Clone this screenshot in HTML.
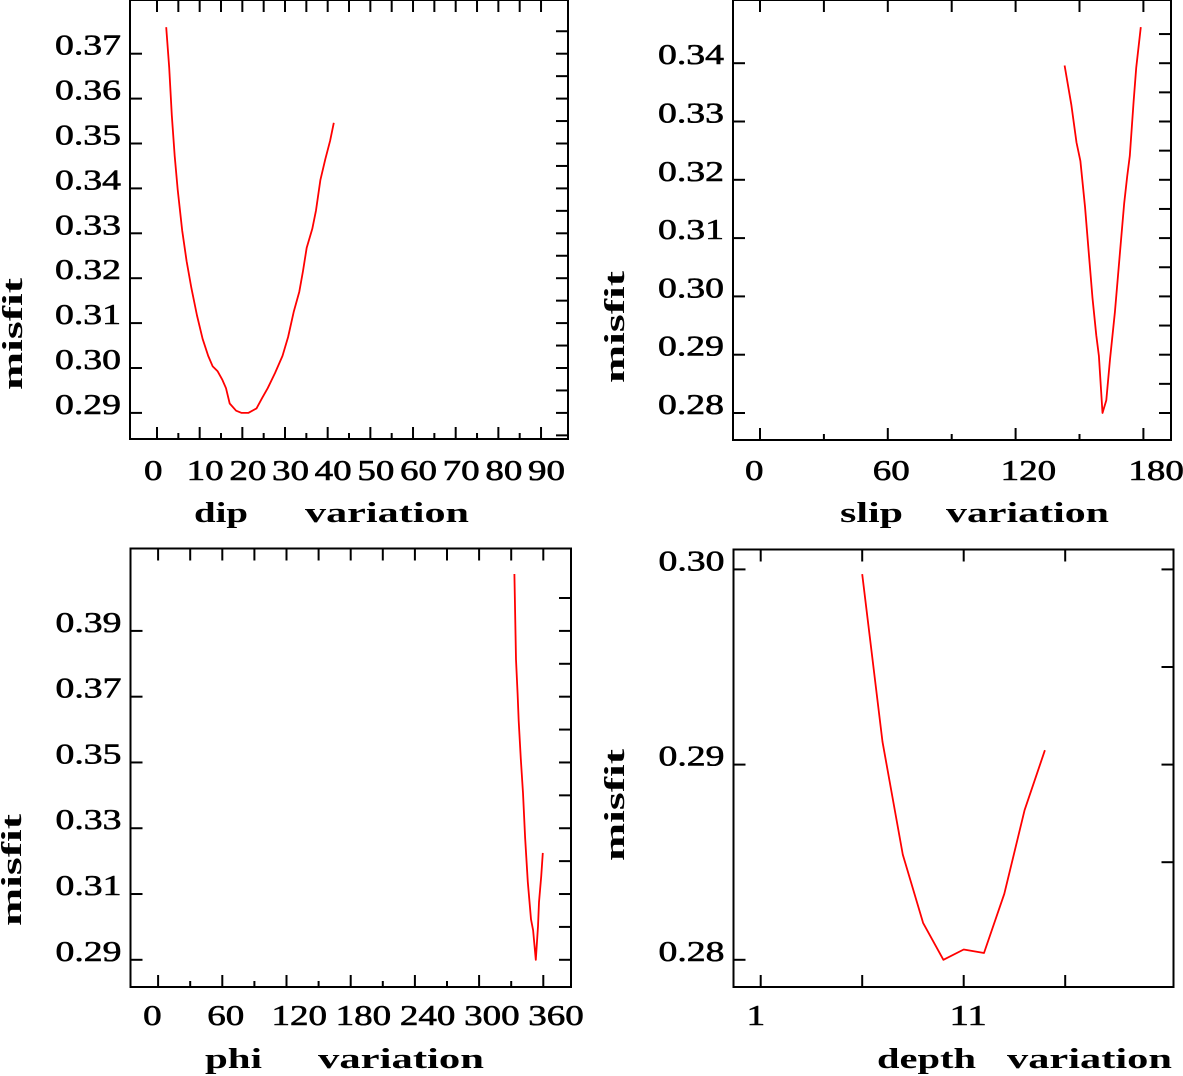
<!DOCTYPE html>
<html><head><meta charset="utf-8"><style>
html,body{margin:0;padding:0;background:#fff;}
svg{display:block;}
text{font-family:"Liberation Serif",serif;fill:#000;}
.tl{stroke:#000;stroke-width:0.6px;}
</style></head><body>
<svg id="chart" width="1183" height="1076" viewBox="0 0 1183 1076" xmlns="http://www.w3.org/2000/svg"></svg>
<script>
// ---- data ----
const dipX = [2.15,2.85,3.46,4.15,4.85,5.9,6.94,8.07,9.37,10.69,12.0,13.03,14.17,15.3,16.17,17.04,18.54,19.83,21.4,23.32,24.63,25.94,27.68,29.41,30.72,32.04,33.35,34.22,35.08,36.4,37.26,38.3,39.44,40.57,41.44];
const dipY = [0.3759,0.3669,0.3563,0.3472,0.3397,0.3306,0.3238,0.3178,0.3117,0.3065,0.3027,0.3004,0.2993,0.2974,0.2955,0.2921,0.2905,0.2900,0.2900,0.2910,0.2933,0.2955,0.2989,0.3027,0.3069,0.3125,0.3170,0.3216,0.3268,0.3310,0.3351,0.3419,0.3465,0.3506,0.3546];
const slipX = [143.0,146.2,148.6,150.4,152.6,154.4,156.1,157.9,159.1,160.8,162.6,164.3,166.6,168.9,171.0,172.4,173.6,175.4,176.6,178.8];
const slipY = [0.3396,0.3328,0.3264,0.3232,0.3154,0.3072,0.2997,0.2933,0.2898,0.2800,0.2822,0.2892,0.2973,0.3072,0.3160,0.3206,0.3241,0.3334,0.3392,0.3462];
const phiX = [333,334.5,336,337,339,341,343,345.5,348.5,350.5,353,355,356,358,359.5];
const phiY = [0.4073,0.3813,0.3709,0.3626,0.3511,0.3407,0.3272,0.3137,0.3023,0.2990,0.2900,0.3002,0.3075,0.3153,0.3225];
const depthX = [6,7,8,9,10,11,12,13,14,15];
const depthY = [0.29976,0.29117,0.28539,0.28189,0.2800,0.28053,0.28035,0.28338,0.28767,0.29074];
const dipXTicks = [0,10,20,30,40,50,60,70,80,90];
const dipYTicks = ["0.29","0.30","0.31","0.32","0.33","0.34","0.35","0.36","0.37"];
const slipXTicks = [0,60,120,180];
const slipYTicks = ["0.28","0.29","0.30","0.31","0.32","0.33","0.34"];
const phiXTicks = [0,60,120,180,240,300,360];
const phiYTicks = ["0.29","0.31","0.33","0.35","0.37","0.39"];
const depthXTicks = [1,11];
const depthXMajor = [1,6,11,16];
const depthYTicks = ["0.28","0.29","0.30"];

const NS = "http://www.w3.org/2000/svg";
const svg = document.getElementById('chart');
function mk(tag, attrs, parent){
  const e = document.createElementNS(NS, tag);
  for (const k in attrs) e.setAttribute(k, attrs[k]);
  (parent||svg).appendChild(e);
  return e;
}

function panel(c){
  const g = mk('g', {});
  
  
  const sx = v => c.x0 + (v - c.xv0) * c.xk;
  const sy = v => c.y0 - (v - c.yv0) * c.yk;
  const box = mk('rect', {x:c.L, y:c.T, width:c.R-c.L, height:c.B-c.T, fill:'none', stroke:'#000', 'stroke-width':2}, g);
  
  
  c.xMajor.forEach(v => {
    const x = sx(v);
    const t1 = mk('line', {x1:x, x2:x, y1:c.B, y2:c.B-12, stroke:'#000','stroke-width':2}, g);
    
    
    const t2 = mk('line', {x1:x, x2:x, y1:c.T, y2:c.T+12, stroke:'#000','stroke-width':2}, g);
    
    
  });
  c.xMinor.forEach(v => {
    const x = sx(v);
    const t1 = mk('line', {x1:x, x2:x, y1:c.B, y2:c.B-6, stroke:'#000','stroke-width':2}, g);
    
    
    const t2 = mk('line', {x1:x, x2:x, y1:c.T, y2:c.T+12, stroke:'#000','stroke-width':2}, g);
    
    
  });
  c.xLabels.forEach(v => {
    const s = String(v);
    const t = mk('text', {x:sx(v)-c.xlOff, y:c.xlY, 'font-size':29, 'class':'tl', textLength:s.length*18.5, lengthAdjust:'spacingAndGlyphs'}, g);
    t.textContent = s;
    
    
  });
  c.yLabels.forEach(s => {
    const y = sy(parseFloat(s));
    const t1 = mk('line', {x1:c.L, x2:c.L+12, y1:y, y2:y, stroke:'#000','stroke-width':2}, g);
    
    
    const lb = mk('text', {x:c.L-9, y:y+1, 'font-size':29, 'class':'tl', 'text-anchor':'end', textLength:66, lengthAdjust:'spacingAndGlyphs'}, g);
    lb.textContent = s;
    
    
  });
  c.yRight.forEach(v => {
    const y = sy(v);
    const t = mk('line', {x1:c.R, x2:c.R-12, y1:y, y2:y, stroke:'#000','stroke-width':2}, g);
    
    
  });
  const pts = c.xs.map((v,i) => sx(v).toFixed(1) + ',' + sy(c.ys[i]).toFixed(1)).join(' ');
  const pl = mk('polyline', {points:pts, fill:'none', stroke:'#ff0000', 'stroke-width':1.8, 'stroke-linejoin':'round'}, g);
  
  
  const t1 = mk('text', {x:c.t1x, y:c.tY, 'font-size':28, 'font-weight':'bold', textLength:c.t1w, lengthAdjust:'spacingAndGlyphs'}, g);
  t1.textContent = c.name;
  
  
  const t2 = mk('text', {x:c.t2x, y:c.tY, 'font-size':28, 'font-weight':'bold', textLength:c.t2w, lengthAdjust:'spacingAndGlyphs'}, g);
  t2.textContent = 'variation';
  
  
  const yt = mk('text', {x:0, y:0, 'font-size':28, 'font-weight':'bold', textLength:112, lengthAdjust:'spacingAndGlyphs', transform:'translate(' + c.mx + ',' + c.my + ') rotate(-90)'}, g);
  yt.textContent = 'misfit';
  
  
}

function range(a,b,s){const r=[];for(let v=a;v<=b+1e-9;v+=s)r.push(+v.toFixed(4));return r;}

panel({name:'dip', L:130, R:568, T:0, B:439, x0:157, xv0:0, xk:4.267, y0:412.9, yv0:0.29, yk:4490,
  xMajor:dipXTicks, xMinor:range(5,85,10), xLabels:dipXTicks, xlOff:13, xlY:480,
  yLabels:dipYTicks, yRight:range(0.285,0.375,0.005), xs:dipX, ys:dipY,
  t1x:194, t1w:54, t2x:305, t2w:164, tY:522, mx:22, my:390});
panel({name:'slip', L:733, R:1171, T:0, B:440, x0:760, xv0:0, xk:2.13, y0:413, yv0:0.28, yk:5830,
  xMajor:slipXTicks, xMinor:[30,90,150], xLabels:slipXTicks, xlOff:15, xlY:480,
  yLabels:slipYTicks, yRight:range(0.28,0.345,0.005), xs:slipX, ys:slipY,
  t1x:840, t1w:63, t2x:946, t2w:163, tY:522, mx:624, my:383});
panel({name:'phi', L:130.5, R:571, T:548.5, B:987, x0:158.1, xv0:0, xk:1.07, y0:959.8, yv0:0.29, yk:3289,
  xMajor:phiXTicks, xMinor:range(30,330,60), xLabels:phiXTicks, xlOff:15, xlY:1025,
  yLabels:phiYTicks, yRight:range(0.29,0.40,0.01), xs:phiX, ys:phiY,
  t1x:205, t1w:57, t2x:318, t2w:166, tY:1068, mx:21, my:926});
panel({name:'depth', L:733.5, R:1173.5, T:549.5, B:987, x0:760.7, xv0:1, xk:20.3, y0:959.8, yv0:0.28, yk:19520,
  xMajor:depthXMajor, xMinor:[], xLabels:depthXTicks, xlOff:14, xlY:1025,
  yLabels:depthYTicks, yRight:[0.285,0.29,0.295,0.30], xs:depthX, ys:depthY,
  t1x:877, t1w:99, t2x:1007, t2w:165, tY:1068, mx:624, my:861});
</script>
</body></html>
